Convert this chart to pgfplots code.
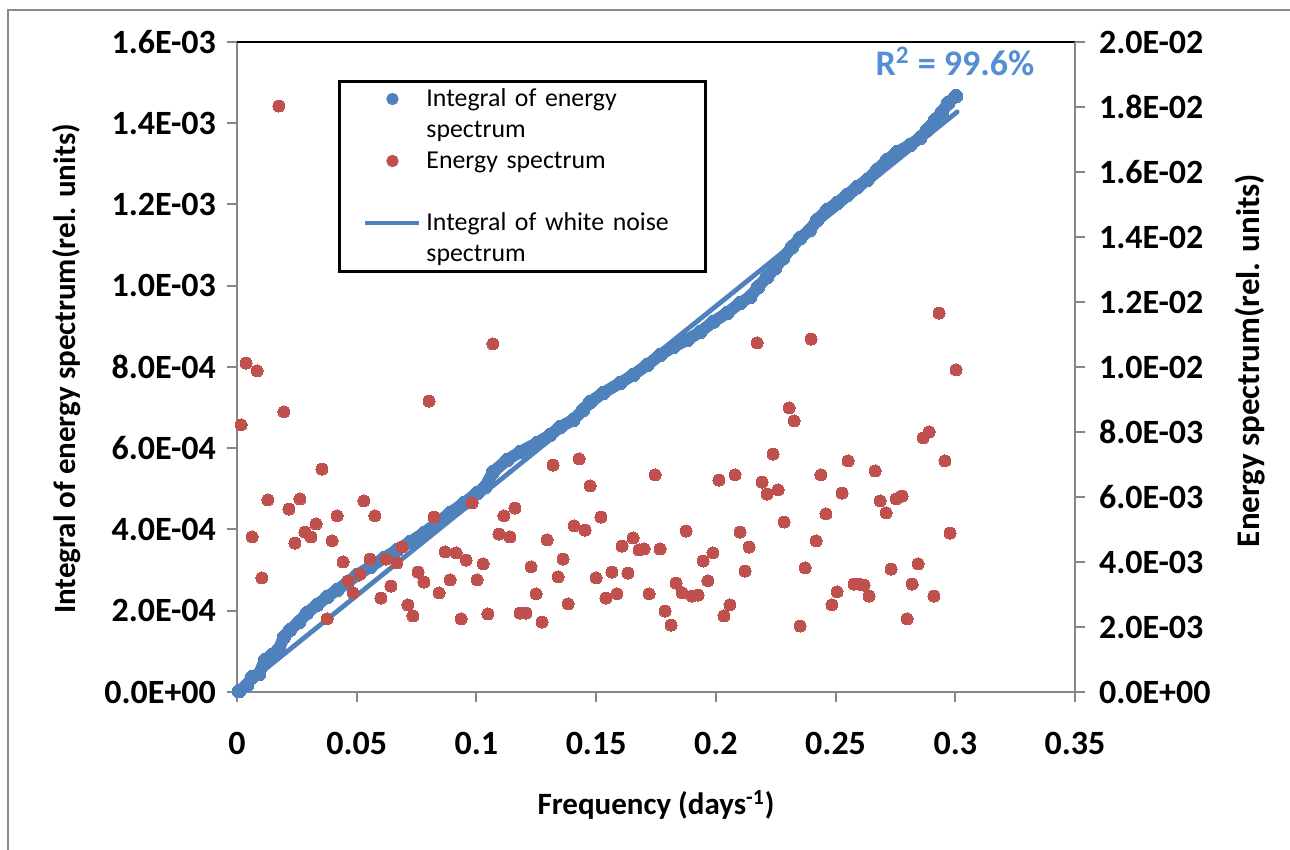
\documentclass[border=0pt]{standalone}
\usepackage{fontspec}
\setmainfont{Carlito}
\usepackage{pgfplots}
\pgfplotsset{compat=1.18}

\definecolor{serblue}{HTML}{4F81BD}
\definecolor{serred}{HTML}{C0504D}
\definecolor{rtext}{HTML}{558ED5}
\definecolor{axgray}{HTML}{868686}
\definecolor{framegray}{HTML}{8C8C8C}

\newcommand{\tickfont}{\fontsize{17}{20}\selectfont\bfseries}
\newcommand{\labfont}{\fontsize{15.5}{18}\selectfont\bfseries}
\newcommand{\legfont}{\fontsize{12.9}{15.5}\selectfont}

% integral of energy spectrum (left axis)
\pgfplotstableread{
x y
0.0008 0.20e-5
0.0042 1.72e-5
0.0063 3.69e-5
0.0092 4.43e-5
0.0117 7.88e-5
0.0146 9.11e-5
0.0175 1.058e-4
0.0196 1.354e-4
0.0221 1.526e-4
0.0259 1.723e-4
0.0292 1.945e-4
0.0334 2.142e-4
0.0376 2.338e-4
0.0418 2.511e-4
0.0459 2.683e-4
0.0501 2.880e-4
0.0556 3.077e-4
0.0614 3.298e-4
0.0668 3.495e-4
0.0723 3.692e-4
0.0781 3.914e-4
0.0835 4.160e-4
0.0890 4.406e-4
0.0948 4.652e-4
0.1003 4.898e-4
0.1036 5.046e-4
0.1069 5.415e-4
0.1128 5.711e-4
0.1182 5.908e-4
0.1253 6.129e-4
0.1307 6.326e-4
0.1349 6.523e-4
0.1404 6.695e-4
0.1445 6.941e-4
0.1475 7.138e-4
0.1529 7.360e-4
0.1600 7.606e-4
0.1654 7.803e-4
0.1713 8.049e-4
0.1767 8.295e-4
0.1821 8.492e-4
0.1880 8.665e-4
0.1934 8.861e-4
0.1988 9.108e-4
0.2047 9.329e-4
0.2101 9.575e-4
0.2143 9.723e-4
0.2176 9.969e-4
0.2214 1.0215e-3
0.2247 1.0437e-3
0.2281 1.0683e-3
0.2318 1.0954e-3
0.2352 1.1175e-3
0.2393 1.1372e-3
0.2423 1.1618e-3
0.2464 1.1865e-3
0.2506 1.2037e-3
0.2548 1.2234e-3
0.2590 1.2431e-3
0.2632 1.2603e-3
0.2673 1.2849e-3
0.2715 1.3095e-3
0.2757 1.3292e-3
0.2811 1.3464e-3
0.2853 1.3637e-3
0.2882 1.3834e-3
0.2916 1.4080e-3
0.2945 1.4277e-3
0.2970 1.4498e-3
0.3003 1.4671e-3
}\integral

% energy spectrum (right axis)
\pgfplotstableread{
x y
0.0017 8.22e-3
0.0038 10.12e-3
0.0063 4.77e-3
0.0084 9.88e-3
0.0104 3.51e-3
0.0129 5.91e-3
0.0175 18.03e-3
0.0196 8.62e-3
0.0217 5.63e-3
0.0242 4.58e-3
0.0263 5.94e-3
0.0284 4.92e-3
0.0309 4.77e-3
0.0330 5.17e-3
0.0355 6.86e-3
0.0376 2.25e-3
0.0397 4.65e-3
0.0418 5.42e-3
0.0443 4.00e-3
0.0464 3.42e-3
0.0485 3.05e-3
0.0514 3.63e-3
0.0530 5.88e-3
0.0556 4.09e-3
0.0576 5.42e-3
0.0601 2.89e-3
0.0622 4.09e-3
0.0643 3.26e-3
0.0668 3.97e-3
0.0689 4.46e-3
0.0714 2.68e-3
0.0735 2.34e-3
0.0756 3.69e-3
0.0781 3.38e-3
0.0802 8.95e-3
0.0823 5.38e-3
0.0844 3.05e-3
0.0869 4.31e-3
0.0890 3.45e-3
0.0915 4.28e-3
0.0936 2.25e-3
0.0957 4.06e-3
0.0982 5.82e-3
0.1003 3.45e-3
0.1028 3.94e-3
0.1048 2.40e-3
0.1069 10.71e-3
0.1094 4.86e-3
0.1115 5.42e-3
0.1140 4.77e-3
0.1161 5.66e-3
0.1182 2.43e-3
0.1207 2.43e-3
0.1228 3.85e-3
0.1249 3.02e-3
0.1274 2.15e-3
0.1295 4.68e-3
0.1320 6.98e-3
0.1341 3.54e-3
0.1362 4.09e-3
0.1383 2.71e-3
0.1408 5.11e-3
0.1429 7.17e-3
0.1454 4.98e-3
0.1475 6.34e-3
0.1500 3.51e-3
0.1520 5.38e-3
0.1541 2.89e-3
0.1566 3.69e-3
0.1587 3.02e-3
0.1608 4.49e-3
0.1633 3.66e-3
0.1654 4.74e-3
0.1679 4.37e-3
0.1700 4.40e-3
0.1721 3.02e-3
0.1746 6.68e-3
0.1767 4.40e-3
0.1788 2.49e-3
0.1813 2.06e-3
0.1834 3.35e-3
0.1859 3.05e-3
0.1876 4.95e-3
0.1901 2.95e-3
0.1926 2.98e-3
0.1947 4.03e-3
0.1967 3.42e-3
0.1988 4.28e-3
0.2013 6.52e-3
0.2034 2.34e-3
0.2059 2.68e-3
0.2080 6.68e-3
0.2101 4.92e-3
0.2122 3.72e-3
0.2139 4.46e-3
0.2172 10.74e-3
0.2193 6.46e-3
0.2214 6.09e-3
0.2239 7.32e-3
0.2260 6.22e-3
0.2285 5.23e-3
0.2306 8.74e-3
0.2327 8.34e-3
0.2352 2.03e-3
0.2373 3.82e-3
0.2398 10.86e-3
0.2419 4.65e-3
0.2439 6.68e-3
0.2460 5.48e-3
0.2485 2.68e-3
0.2506 3.08e-3
0.2527 6.12e-3
0.2552 7.11e-3
0.2577 3.32e-3
0.2598 3.32e-3
0.2619 3.29e-3
0.2640 2.95e-3
0.2665 6.80e-3
0.2686 5.88e-3
0.2711 5.51e-3
0.2732 3.78e-3
0.2753 5.94e-3
0.2778 6.03e-3
0.2799 2.25e-3
0.2820 3.32e-3
0.2845 3.94e-3
0.2866 7.82e-3
0.2891 8.00e-3
0.2911 2.95e-3
0.2932 11.66e-3
0.2957 7.11e-3
0.2978 4.89e-3
0.3003 9.91e-3
}\spectrum

\begin{document}
\begin{tikzpicture}
\useasboundingbox (0pt,0pt) rectangle (645pt,425pt);
\clip (0pt,0pt) rectangle (645pt,425pt);
% outer chart frame (runs off the right and bottom)
\draw[framegray, line width=1pt] (4pt,-10pt) -- (4pt,420pt) -- (660pt,420pt);

\pgfplotsset{
  common/.style={
    at={(118.5pt,79pt)}, anchor=south west,
    scale only axis, width=419pt, height=325pt,
    xmin=0, xmax=0.35,
    tick align=outside, major tick length=5pt,
    axis line style={-, draw=axgray, line width=1pt},
    every tick/.style={axgray, line width=1pt},
    tick label style={font=\tickfont, text=black},
    label style={font=\labfont},
  },
}

\begin{axis}[common,
  ymin=0, ymax=1.6e-3,
  axis x line*=bottom, axis y line*=left,
  xtick={0,0.05,0.1,0.15,0.2,0.25,0.3,0.35},
  xticklabels={0,0.05,0.1,0.15,0.2,0.25,0.3,0.35},
  xticklabel style={yshift=-11.5pt},
  ytick={0,2e-4,4e-4,6e-4,8e-4,1e-3,1.2e-3,1.4e-3,1.6e-3},
  yticklabels={0.0E+00,2.0E-04,4.0E-04,6.0E-04,8.0E-04,1.0E-03,1.2E-03,1.4E-03,1.6E-03},
  yticklabel style={xshift=-2pt},
  scaled y ticks=false,
  xlabel={Frequency (days\textsuperscript{-1})},
  ylabel={Integral of energy spectrum(rel. units)},
  xlabel style={at={(rel axis cs:0.5,-0.1738)}, anchor=center},
  ylabel style={at={(rel axis cs:-0.2029,0.497)}, anchor=center},
  clip=false,
]
\draw[black, line width=1pt] (rel axis cs:0,1) -- (rel axis cs:1,1);
\addplot[serblue, line width=6pt, line cap=round, line join=round,
  mark=*, mark size=3.4pt, mark options={fill=serblue, draw=serblue, line width=0pt}]
  table[x=x, y=y] {\integral};
\addplot[serblue, line width=2.4pt, line cap=round] coordinates {(0.0008,0.4e-5) (0.3008,1.428e-3)};
\node[text=rtext, font=\fontsize{18}{20}\selectfont\bfseries] at (axis cs:0.2999,1.552e-3) {R\textsuperscript{2} = 99.6\%};
\end{axis}

\begin{axis}[common,
  ymin=0, ymax=0.02,
  axis x line=none, axis y line*=right,
  ytick={0,2e-3,4e-3,6e-3,8e-3,1e-2,1.2e-2,1.4e-2,1.6e-2,1.8e-2,2e-2},
  yticklabels={0.0E+00,2.0E-03,4.0E-03,6.0E-03,8.0E-03,1.0E-02,1.2E-02,1.4E-02,1.6E-02,1.8E-02,2.0E-02},
  yticklabel style={xshift=3.5pt},
  scaled y ticks=false,
  ylabel={Energy spectrum(rel. units)},
  ylabel style={at={(rel axis cs:1.2088,0.51)}, anchor=center, font=\fontsize{16.5}{19}\selectfont\bfseries},
  legend style={at={(0.1205,0.9415)}, anchor=north west, draw=black, line width=1.5pt,
    inner xsep=12pt, inner ysep=1pt, fill=white,
    nodes={font=\legfont, text height=10.5pt, text depth=3.5pt, inner xsep=2.5pt, inner ysep=0.75pt,
      text width=125pt, align=left}},
  legend cell align=left,
  clip=false,
]
\addplot[only marks, mark=*, mark size=3pt, mark options={fill=serred, draw=serred, line width=0pt}, forget plot]
  table[x=x, y=y] {\spectrum};
\addlegendimage{legend image code/.code={\fill[serblue] (13.5pt,0pt) circle (2.3pt);}}
\addlegendentry{Integral of energy}
\addlegendimage{empty legend}
\addlegendentry{spectrum}
\addlegendimage{legend image code/.code={\fill[serred] (13.5pt,0pt) circle (2.3pt);}}
\addlegendentry{Energy spectrum}
\addlegendimage{empty legend}
\addlegendentry{\mbox{}}
\addlegendimage{legend image code/.code={\draw[serblue, line width=2pt] (0pt,0pt) -- (27pt,0pt);}}
\addlegendentry{Integral of white noise}
\addlegendimage{empty legend}
\addlegendentry{spectrum}
\end{axis}
\end{tikzpicture}
\end{document}
